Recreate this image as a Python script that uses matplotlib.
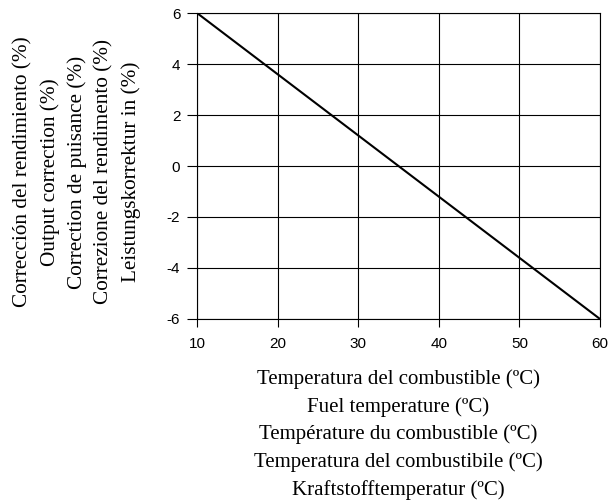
import numpy as np
import matplotlib.pyplot as plt

# values
temperature = [10, 20, 30, 40, 50, 60]
correction = [6.0, 3.6, 1.2, -1.2, -3.6, -6.0]
x_ticks = [10, 20, 30, 40, 50, 60]
y_ticks = [-6, -4, -2, 0, 2, 4, 6]

y_label_lines = [
    'Corrección del rendimiento (%)',
    'Output correction (%)',
    'Correction de puisance (%)',
    'Correzione del rendimento (%)',
    'Leistungskorrektur in (%)',
]
x_label_lines = [
    'Temperatura del combustible (ºC)',
    'Fuel temperature (ºC)',
    'Température du combustible (ºC)',
    'Temperatura del combustibile (ºC)',
    'Kraftstofftemperatur (ºC)',
]

plt.rcParams['axes.unicode_minus'] = False

fig = plt.figure(figsize=(6.09, 5.01), dpi=100)
ax = fig.add_axes([0.3235, 0.3633, 0.9852 - 0.3235, 0.974 - 0.3633])

ax.plot(temperature, correction, color='black', linewidth=1.5)

ax.set_xlim(10, 60)
ax.set_ylim(-6, 6)
ax.set_xticks(x_ticks)
ax.set_yticks(y_ticks)
ax.grid(True, color='black', linewidth=0.8)
for s in ax.spines.values():
    s.set_linewidth(0.8)
ax.tick_params(axis='x', direction='out', length=6, width=0.8, color='black', pad=7)
ax.tick_params(axis='y', direction='out', length=7, width=0.8, color='black', pad=5)
for lab in ax.get_xticklabels() + ax.get_yticklabels():
    lab.set_family('Liberation Sans')
    lab.set_fontsize(11)

# multi-language axis titles, placed in figure coordinates
fig.text(398.5 / 609, 1 - 434.5 / 501, '\n'.join(x_label_lines),
         family='Liberation Serif', fontsize=15, linespacing=1.54,
         ha='center', va='center', multialignment='center')
fig.text(77 / 609, 1 - 172 / 501, '\n'.join(y_label_lines),
         family='Liberation Serif', fontsize=15.3, linespacing=1.52,
         ha='center', va='center', multialignment='center', rotation=90)

fig.savefig('out.png', dpi=100)
